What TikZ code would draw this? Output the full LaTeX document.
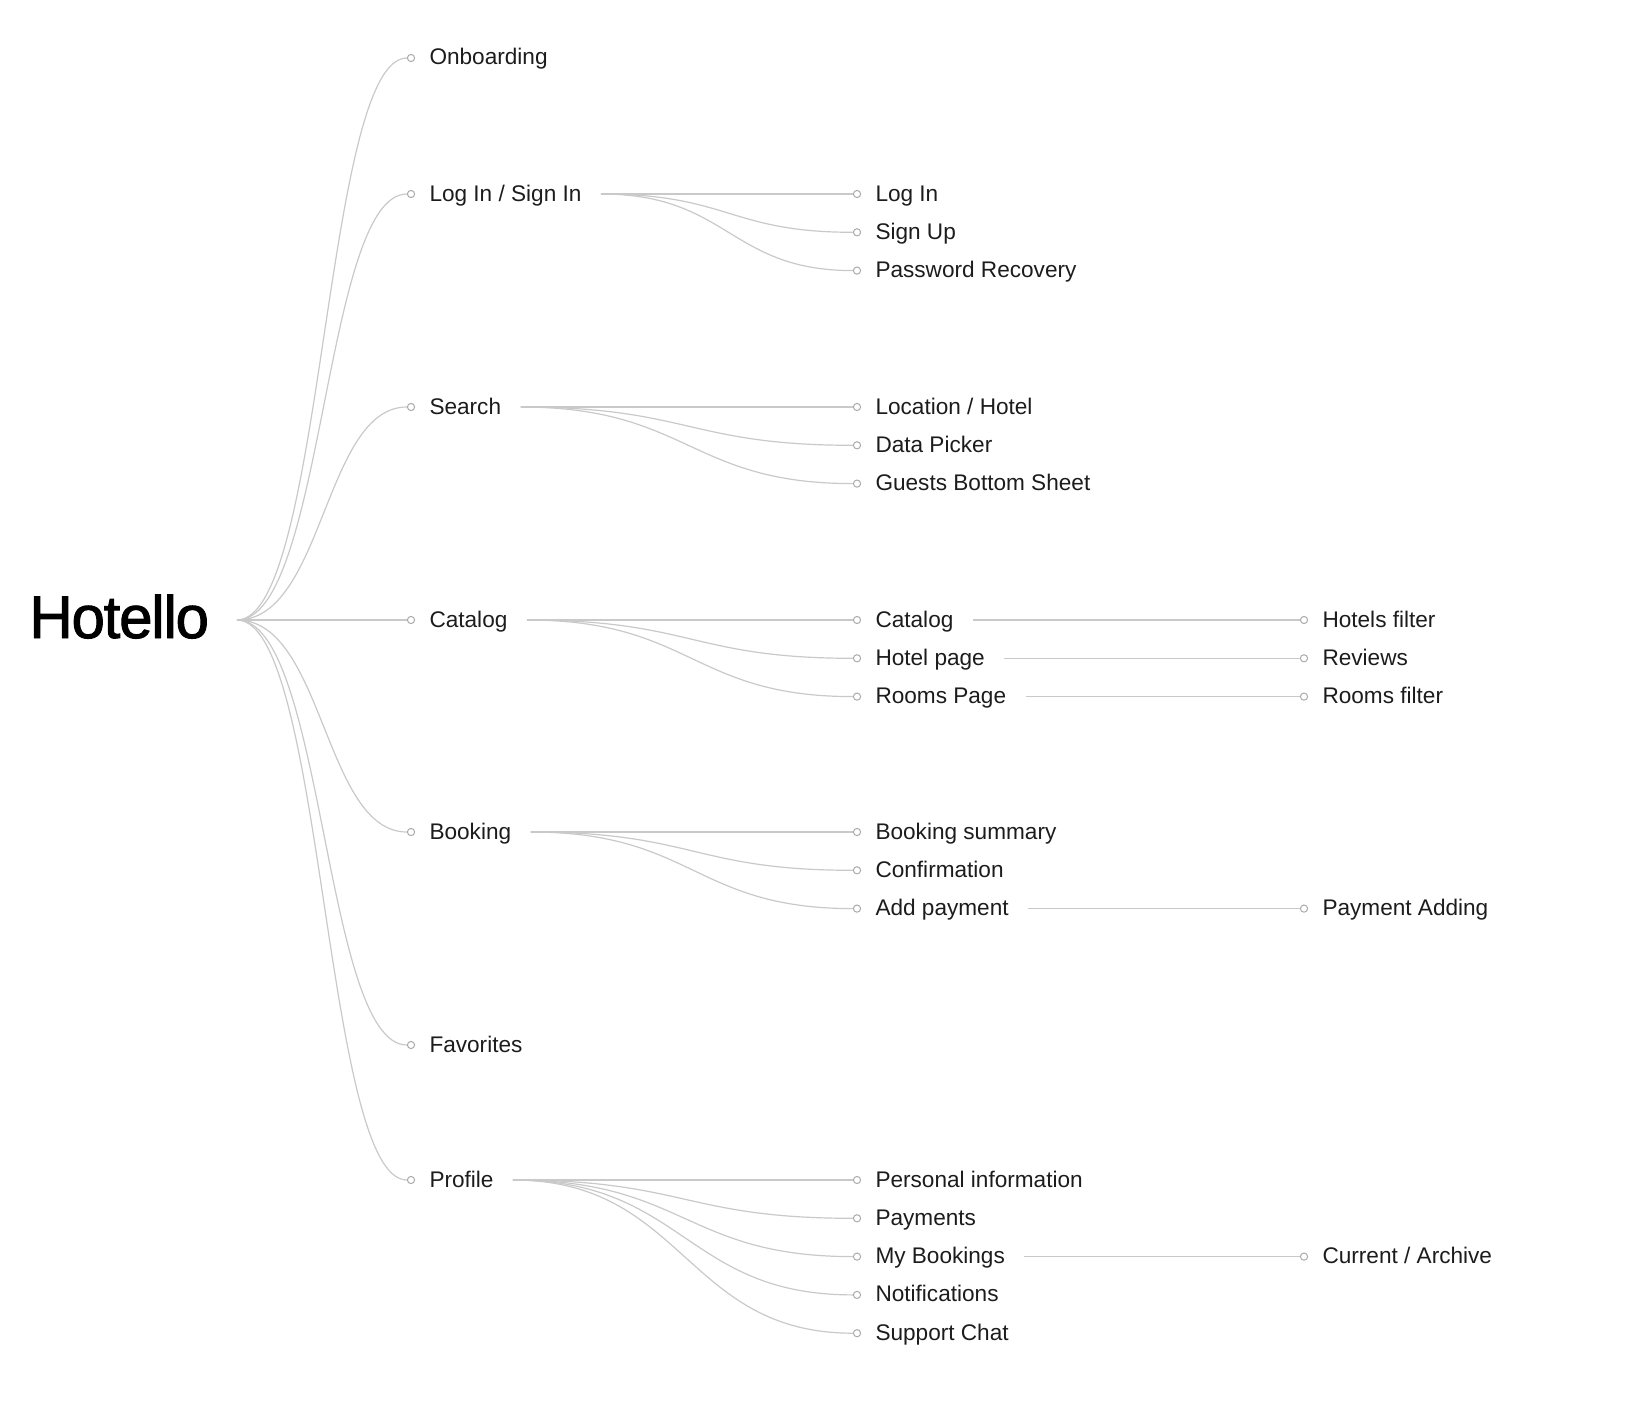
\documentclass[tikz,border=0pt]{standalone}
\usepackage{fontspec}
\setmainfont{Liberation Sans}
\newfontfamily\titlefont[FakeBold=1.6, LetterSpace=-2]{Liberation Sans}
\usepackage{xcolor}
\usepackage{tikz}
\usetikzlibrary{calc, positioning}
\definecolor{ink}{HTML}{1C1C1C}
\definecolor{wireGray}{HTML}{C9C9C9}
\definecolor{dotGray}{HTML}{ABABAB}
\tikzset{
    title/.style={anchor=base west, inner sep=0pt, font=\titlefont\fontsize{30}{34}\selectfont, text=black},
    item/.style={anchor=west, inner sep=0pt, text height=8pt, text depth=1pt, font=\fontsize{11.3}{13}\selectfont, text=ink},
    dot/.style={circle, draw=dotGray, fill=white, line width=0.5pt, inner sep=0pt, minimum size=3.6pt},
    wire/.style={draw=wireGray, line width=0.6pt, to path={let \p1=(\tikztostart), \p2=(\tikztotarget) in .. controls ($(\p1)!0.5!(\x2,\y1)$) and ($(\p2)!0.5!(\x1,\y2)$) .. (\tikztotarget)}}
}
\begin{document}
\begin{tikzpicture}[x=0.5pt, y=-0.5pt]
        \useasboundingbox (0,0) rectangle (1645,1402);

        % Root
        \node[title] (Hotello) at (29,638) {Hotello};
        \coordinate (Hub) at (237,620);

        % Main screens
        \node[dot] (OnbDot) at (411,58) {};
        \node[item, right=7pt of OnbDot] (Onboarding) {Onboarding};
        \node[dot] (LogSignDot) at (411,194) {};
        \node[item, right=7pt of LogSignDot] (LogSign) {Log In / Sign In};
        \node[dot] (SearchDot) at (411,407) {};
        \node[item, right=7pt of SearchDot] (Search) {Search};
        \node[dot] (CatalogDot) at (411,620) {};
        \node[item, right=7pt of CatalogDot] (Catalog) {Catalog};
        \node[dot] (BookingDot) at (411,832) {};
        \node[item, right=7pt of BookingDot] (Booking) {Booking};
        \node[dot] (FavDot) at (411,1045) {};
        \node[item, right=7pt of FavDot] (Favorites) {Favorites};
        \node[dot] (ProfileDot) at (411,1180) {};
        \node[item, right=7pt of ProfileDot] (Profile) {Profile};

        \foreach \dest in {OnbDot, LogSignDot, SearchDot, CatalogDot, BookingDot, FavDot, ProfileDot}
            \draw[wire] (Hub) to (\dest);

        % Log In / Sign In
        \coordinate[right=9.5pt of LogSign] (LogSignOut);
        \node[dot] (LogInDot) at (857,194) {};
        \node[item, right=7pt of LogInDot] (LogIn) {Log In};
        \node[dot] (SignUpDot) at (857,232.3) {};
        \node[item, right=7pt of SignUpDot] (SignUp) {Sign Up};
        \node[dot] (PassRecDot) at (857,270.6) {};
        \node[item, right=7pt of PassRecDot] (PassRec) {Password Recovery};
        \draw[wire] (LogSignOut) to (LogInDot);
        \draw[wire] (LogSignOut) to (SignUpDot);
        \draw[wire] (LogSignOut) to (PassRecDot);

        % Search
        \coordinate[right=9.5pt of Search] (SearchOut);
        \node[dot] (LocationDot) at (857,407) {};
        \node[item, right=7pt of LocationDot] (Location) {Location / Hotel};
        \node[dot] (PickerDot) at (857,445.3) {};
        \node[item, right=7pt of PickerDot] (Picker) {Data Picker};
        \node[dot] (GuestsDot) at (857,483.6) {};
        \node[item, right=7pt of GuestsDot] (Guests) {Guests Bottom Sheet};
        \draw[wire] (SearchOut) to (LocationDot);
        \draw[wire] (SearchOut) to (PickerDot);
        \draw[wire] (SearchOut) to (GuestsDot);

        % Catalog
        \coordinate[right=9.5pt of Catalog] (CatalogOut);
        \node[dot] (CatalogSubDot) at (857,620) {};
        \node[item, right=7pt of CatalogSubDot] (CatalogSub) {Catalog};
        \node[dot] (HotelPageDot) at (857,658.3) {};
        \node[item, right=7pt of HotelPageDot] (HotelPage) {Hotel page};
        \node[dot] (RoomsPageDot) at (857,696.6) {};
        \node[item, right=7pt of RoomsPageDot] (RoomsPage) {Rooms Page};
        \draw[wire] (CatalogOut) to (CatalogSubDot);
        \draw[wire] (CatalogOut) to (HotelPageDot);
        \draw[wire] (CatalogOut) to (RoomsPageDot);

        \node[dot] (HotelsFilterDot) at (1304,620) {};
        \node[item, right=7pt of HotelsFilterDot] (HotelsFilter) {Hotels filter};
        \node[dot] (ReviewsDot) at (1304,658.3) {};
        \node[item, right=7pt of ReviewsDot] (Reviews) {Reviews};
        \node[dot] (RoomsFilterDot) at (1304,696.6) {};
        \node[item, right=7pt of RoomsFilterDot] (RoomsFilter) {Rooms filter};
        \draw[wire] ([xshift=9.5pt]CatalogSub.east) -- (HotelsFilterDot);
        \draw[wire] ([xshift=9.5pt]HotelPage.east) -- (ReviewsDot);
        \draw[wire] ([xshift=9.5pt]RoomsPage.east) -- (RoomsFilterDot);

        % Booking
        \coordinate[right=9.5pt of Booking] (BookingOut);
        \node[dot] (SummaryDot) at (857,832) {};
        \node[item, right=7pt of SummaryDot] (Summary) {Booking summary};
        \node[dot] (ConfirmDot) at (857,870.3) {};
        \node[item, right=7pt of ConfirmDot] (Confirm) {Confirmation};
        \node[dot] (AddPayDot) at (857,908.6) {};
        \node[item, right=7pt of AddPayDot] (AddPay) {Add payment};
        \draw[wire] (BookingOut) to (SummaryDot);
        \draw[wire] (BookingOut) to (ConfirmDot);
        \draw[wire] (BookingOut) to (AddPayDot);

        \node[dot] (PayAddingDot) at (1304,908.6) {};
        \node[item, right=7pt of PayAddingDot] (PayAdding) {Payment Adding};
        \draw[wire] ([xshift=9.5pt]AddPay.east) -- (PayAddingDot);

        % Profile
        \coordinate[right=9.5pt of Profile] (ProfileOut);
        \node[dot] (PersonalDot) at (857,1180) {};
        \node[item, right=7pt of PersonalDot] (Personal) {Personal information};
        \node[dot] (PaymentsDot) at (857,1218.3) {};
        \node[item, right=7pt of PaymentsDot] (Payments) {Payments};
        \node[dot] (MyBookingsDot) at (857,1256.6) {};
        \node[item, right=7pt of MyBookingsDot] (MyBookings) {My Bookings};
        \node[dot] (NotifDot) at (857,1294.9) {};
        \node[item, right=7pt of NotifDot] (Notif) {Notifications};
        \node[dot] (SupportDot) at (857,1333.2) {};
        \node[item, right=7pt of SupportDot] (Support) {Support Chat};
        \foreach \dest in {PersonalDot, PaymentsDot, MyBookingsDot, NotifDot, SupportDot}
            \draw[wire] (ProfileOut) to (\dest);

        \node[dot] (ArchiveDot) at (1304,1256.6) {};
        \node[item, right=7pt of ArchiveDot] (Archive) {Current / Archive};
        \draw[wire] ([xshift=9.5pt]MyBookings.east) -- (ArchiveDot);

    \end{tikzpicture}
\end{document}
